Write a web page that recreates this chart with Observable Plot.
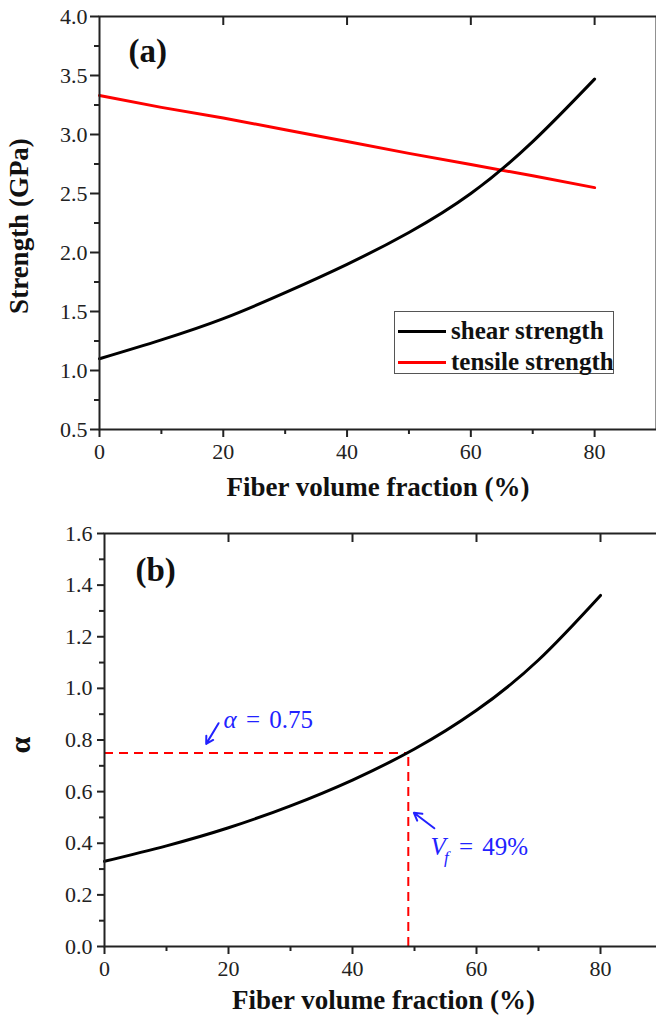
<!DOCTYPE html>
<html><head><meta charset="utf-8">
<script src="https://cdn.jsdelivr.net/npm/d3@7"></script>
<script src="https://cdn.jsdelivr.net/npm/@observablehq/plot@0.6"></script>
<style>
body{margin:0;background:#fff;}
#wrap{position:relative;width:656px;height:1019px;overflow:hidden;background:#fff;}
#top,#bot{position:absolute;left:0;}
#top{top:0;width:656px;}
#bot{top:505px;width:662px;}
svg{max-width:none!important;}
svg, svg text{font-family:"Liberation Serif","Tinos","Times New Roman","Nimbus Roman","DejaVu Serif",serif !important;}
svg g[aria-label$="tick label"]{font-variant:normal !important;}
.legend{position:absolute;left:394px;top:311px;width:218px;height:61px;border:1.5px solid #555;background:#fff;
  font-family:"Liberation Serif","Tinos","Times New Roman","Nimbus Roman","DejaVu Serif",serif;font-weight:bold;font-size:25px;color:#111;}
.legend .row{position:absolute;left:0;height:30px;display:flex;align-items:center;white-space:nowrap;}
.legend .sw{width:48px;height:3px;margin-left:3px;margin-right:5px;}
</style></head><body>
<div id="wrap"><div id="top"></div><div id="bot"></div><div class="legend" id="legend"></div></div>
<script>
// ---- data ----
const fiberVf = [0, 10, 20, 30, 40, 50, 60, 70, 80];
const shearStrength = [1.10, 1.26, 1.44, 1.66, 1.90, 2.17, 2.50, 2.94, 3.47];
const tensileStrength = [3.33, 3.23, 3.14, 3.04, 2.94, 2.84, 2.745, 2.65, 2.55];
const alphaValues = [0.33, 0.39, 0.46, 0.545, 0.645, 0.765, 0.915, 1.11, 1.36];
const xMajorTicks = [0, 20, 40, 60, 80];
const xMinorTicks = [10, 30, 50, 70];
const strengthTicks = [0.5, 1.0, 1.5, 2.0, 2.5, 3.0, 3.5, 4.0];
const strengthMinor = [0.75, 1.25, 1.75, 2.25, 2.75, 3.25, 3.75];
const alphaTicks = [0.0, 0.2, 0.4, 0.6, 0.8, 1.0, 1.2, 1.4, 1.6];
const alphaMinor = [0.1, 0.3, 0.5, 0.7, 0.9, 1.1, 1.3, 1.5];
const seriesNames = ["shear strength", "tensile strength"];
const seriesColors = ["#000000", "#ff0000"];
const vfCritical = 49;
const alphaCritical = 0.75;
const annotations = [
  {label: "α = 0.75", x: 19.2, y: 0.845},
  {label: "V = 49%", x: 52.6, y: 0.353}
];
const arrows = [
  {x1: 18.4, y1: 0.865, x2: 16.4, y2: 0.785},
  {x1: 53.2, y1: 0.458, x2: 49.9, y2: 0.518}
];

const FONT = '"Liberation Serif","Tinos","Times New Roman","Nimbus Roman","DejaVu Serif",serif';
const INK = "#222";
const BLUE = "#2222ff";
const TICK_FONT = 22;

const topRows = fiberVf.map((v, i) => ({vf: v, shear: shearStrength[i], tensile: tensileStrength[i]}));
const botRows = fiberVf.map((v, i) => ({vf: v, alpha: alphaValues[i]}));

function axes(yDomain, yTicks, yMinor, yPad, yTick, plotH) {
  const inner = (yDomain[1] - yDomain[0]) * 9 / plotH; // 9px inward tick on the top frame
  return [
    Plot.frame({stroke: INK, strokeWidth: 2}),
    Plot.ruleX(xMajorTicks.filter(d => d > 0), {y1: yDomain[1], y2: yDomain[1] - inner, stroke: INK, strokeWidth: 2}),
    Plot.axisX(xMajorTicks, {anchor: "bottom", tickSize: 8, tickPadding: 6, fontSize: TICK_FONT, color: INK, strokeWidth: 2, label: null, tickFormat: d3.format("d")}),
    Plot.axisX(xMinorTicks, {anchor: "bottom", tickSize: 5, fontSize: TICK_FONT, color: INK, strokeWidth: 2, label: null, tickFormat: () => ""}),
    Plot.axisY(yTicks, {anchor: "left", tickSize: yTick, tickPadding: yPad, fontSize: TICK_FONT, color: INK, strokeWidth: 2, label: null, tickFormat: d3.format(".1f")}),
    Plot.axisY(yMinor, {anchor: "left", tickSize: 5, fontSize: TICK_FONT, color: INK, strokeWidth: 2, label: null, tickFormat: () => ""})
  ];
}

const topDomain = [0.5, 4.0];
const topPlot = Plot.plot({
  width: 656, height: 505, marginLeft: 99, marginRight: 0, marginTop: 16, marginBottom: 76,
  style: {fontFamily: FONT, fontSize: "22px", background: "white", overflow: "visible"},
  x: {domain: [0, 90]}, y: {domain: topDomain},
  marks: [
    Plot.line(topRows, {x: "vf", y: "tensile", stroke: seriesColors[1], strokeWidth: 3}),
    Plot.line(topRows, {x: "vf", y: "shear", stroke: seriesColors[0], strokeWidth: 3, curve: "natural"}),
    ...axes(topDomain, strengthTicks, strengthMinor, 3, 9, 413),
    Plot.text(["(a)"], {frameAnchor: "top-left", dx: 29, dy: 45, lineAnchor: "bottom", textAnchor: "start", fontSize: 33, fontWeight: "bold", fill: "#111"}),
    Plot.text(["Fiber volume fraction (%)"], {frameAnchor: "bottom", dy: 66, lineAnchor: "bottom", textAnchor: "middle", fontSize: 27, fontWeight: "bold", fill: "#111"}),
    Plot.text(["Strength (GPa)"], {frameAnchor: "left", dx: -80, dy: 3, rotate: -90, lineAnchor: "middle", textAnchor: "middle", fontSize: 27, fontWeight: "bold", fill: "#111"})
  ]
});
document.getElementById("top").appendChild(topPlot);

const botDomain = [0, 1.6];
const botPlot = Plot.plot({
  width: 662, height: 514, marginLeft: 104, marginRight: 0, marginTop: 28, marginBottom: 73,
  style: {fontFamily: FONT, fontSize: "22px", background: "white", overflow: "visible"},
  x: {domain: [0, 90]}, y: {domain: botDomain},
  marks: [
    Plot.ruleY([alphaCritical], {x1: 0, x2: vfCritical, stroke: "#ff0000", strokeWidth: 2, strokeDasharray: "9,6"}),
    Plot.ruleX([vfCritical], {y1: 0, y2: alphaCritical, stroke: "#ff0000", strokeWidth: 2, strokeDasharray: "9,6"}),
    Plot.line(botRows, {x: "vf", y: "alpha", stroke: "#000", strokeWidth: 3, curve: "natural"}),
    ...axes(botDomain, alphaTicks, alphaMinor, 5, 7, 413),
    Plot.arrow(arrows, {x1: "x1", y1: "y1", x2: "x2", y2: "y2", stroke: BLUE, strokeWidth: 2, headLength: 8}),
    Plot.text(annotations, {x: "x", y: "y", text: "label", textAnchor: "start", lineAnchor: "bottom", fontSize: 25, fill: BLUE}),
    Plot.text(["(b)"], {frameAnchor: "top-left", dx: 31, dy: 47, lineAnchor: "bottom", textAnchor: "start", fontSize: 33, fontWeight: "bold", fill: "#111"}),
    Plot.text(["Fiber volume fraction (%)"], {frameAnchor: "bottom", dy: 62, lineAnchor: "bottom", textAnchor: "middle", fontSize: 27, fontWeight: "bold", fill: "#111"}),
    Plot.text(["α"], {frameAnchor: "left", dx: -84, dy: 5, rotate: -90, lineAnchor: "middle", textAnchor: "middle", fontSize: 30, fontWeight: "bold", fill: "#111"})
  ]
});
document.getElementById("bot").appendChild(botPlot);

// rich text for annotations
const ns = "http://www.w3.org/2000/svg";
function span(txt, attrs) {
  const s = document.createElementNS(ns, "tspan");
  for (const k in attrs) s.setAttribute(k, attrs[k]);
  s.textContent = txt;
  return s;
}
botPlot.querySelectorAll("text").forEach(t => {
  const s = t.textContent;
  if (s === "α = 0.75") {
    t.textContent = "";
    t.appendChild(span("α", {"font-style": "italic"}));
    t.appendChild(span(" = ", {dx: 3}));
    t.appendChild(span("0.75", {dx: 3}));
  } else if (s === "V = 49%") {
    t.textContent = "";
    t.appendChild(span("V", {"font-style": "italic"}));
    t.appendChild(span("f", {"font-style": "italic", "font-size": 17, dy: 8, dx: -2}));
    t.appendChild(span(" = ", {dy: -8, dx: 4}));
    t.appendChild(span("49%", {dx: 3}));
  }
});

// legend
const lg = document.getElementById("legend");
seriesNames.forEach((name, i) => {
  const row = document.createElement("div");
  row.className = "row";
  row.style.top = (4 + i * 31) + "px";
  const sw = document.createElement("span"); sw.className = "sw"; sw.style.background = seriesColors[i];
  const tx = document.createElement("span"); tx.textContent = name;
  row.appendChild(sw); row.appendChild(tx);
  lg.appendChild(row);
});
</script>
</body></html>
